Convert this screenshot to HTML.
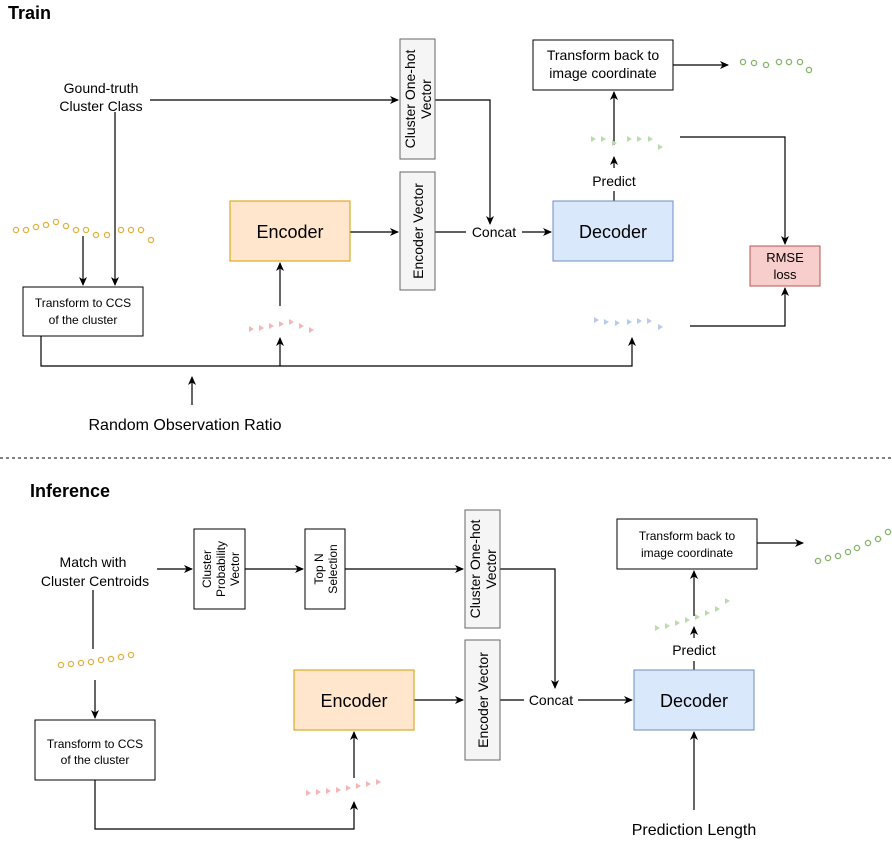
<!DOCTYPE html>
<html><head><meta charset="utf-8"><style>
html,body{margin:0;padding:0;background:#fff}
svg{display:block}
text{font-family:"Liberation Sans",Arial,sans-serif;fill:#000}
</style></head><body>
<svg width="892" height="848" viewBox="0 0 892 848" xmlns="http://www.w3.org/2000/svg">
<defs>
<marker id="a" markerWidth="10" markerHeight="10" refX="8" refY="5" orient="auto" markerUnits="userSpaceOnUse">
<path d="M0,1 L9,5 L0,9 L2.5,5 Z" fill="#000"/></marker>
</defs>
<g stroke="#000" stroke-width="1.2" fill="none">
<path d="M150,100 H398" marker-end="url(#a)"/>
<path d="M435,100 H490 V224" marker-end="url(#a)"/>
<path d="M350,232 H398" marker-end="url(#a)"/>
<path d="M435,232 H466"/>
<path d="M522,232 H551" marker-end="url(#a)"/>
<path d="M614,201 V191"/>
<path d="M614,168 V157" marker-end="url(#a)"/>
<path d="M614,145 V92" marker-end="url(#a)"/>
<path d="M673,65 H728" marker-end="url(#a)"/>
<path d="M680,137 H785 V244" marker-end="url(#a)"/>
<path d="M690,326 H785 V288" marker-end="url(#a)"/>
<path d="M115,112 V285" marker-end="url(#a)"/>
<path d="M83,236 V285" marker-end="url(#a)"/>
<path d="M41,336 V366 H632 V338" marker-end="url(#a)"/>
<path d="M280,366 V338" marker-end="url(#a)"/>
<path d="M280,306 V263" marker-end="url(#a)"/>
<path d="M192,405 V377" marker-end="url(#a)"/>
<path d="M157,569 H192" marker-end="url(#a)"/>
<path d="M245,569 H303" marker-end="url(#a)"/>
<path d="M345,569 H463" marker-end="url(#a)"/>
<path d="M500,569 H555 V688" marker-end="url(#a)"/>
<path d="M414,700 H463" marker-end="url(#a)"/>
<path d="M500,700 H524"/>
<path d="M578,700 H632" marker-end="url(#a)"/>
<path d="M694,670 V661"/>
<path d="M694,638 V627" marker-end="url(#a)"/>
<path d="M694,616 V571" marker-end="url(#a)"/>
<path d="M757,543 H803" marker-end="url(#a)"/>
<path d="M93,590 V649"/>
<path d="M95,680 V718" marker-end="url(#a)"/>
<path d="M95,780 V829 H354 V802" marker-end="url(#a)"/>
<path d="M354,778 V732" marker-end="url(#a)"/>
<path d="M694,810 V732" marker-end="url(#a)"/>
</g>
<line x1="0" y1="458" x2="892" y2="458" stroke="#000" stroke-width="1" stroke-dasharray="3,3"/>

<rect x="400" y="39" width="35" height="120" fill="#f5f5f5" stroke="#666"/>
<text transform="translate(417,99) rotate(-90)" font-size="14" text-anchor="middle" fill="#333"><tspan x="0" y="-2">Cluster One-hot</tspan><tspan x="0" y="14">Vector</tspan></text>
<rect x="400" y="172" width="35" height="118" fill="#f5f5f5" stroke="#666"/>
<text transform="translate(423,231) rotate(-90)" font-size="14" text-anchor="middle" fill="#333">Encoder Vector</text>
<rect x="230" y="201" width="120" height="60" fill="#ffe6cc" stroke="#d79b00"/>
<text x="290" y="238" font-size="18" text-anchor="middle">Encoder</text>
<rect x="553" y="201" width="120" height="60" fill="#dae8fc" stroke="#6c8ebf"/>
<text x="613" y="238" font-size="18" text-anchor="middle">Decoder</text>
<rect x="533" y="40" width="140" height="50" fill="#fff" stroke="#000"/>
<text x="603" y="60" font-size="14" text-anchor="middle">Transform back to</text>
<text x="603" y="78" font-size="14" text-anchor="middle">image coordinate</text>
<rect x="750" y="246" width="70" height="40" fill="#f8cecc" stroke="#b85450"/>
<text x="785" y="262" font-size="13" text-anchor="middle">RMSE</text>
<text x="785" y="279" font-size="13" text-anchor="middle">loss</text>
<rect x="23" y="287" width="120" height="49" fill="#fff" stroke="#000"/>
<text x="83" y="307" font-size="12" text-anchor="middle">Transform to CCS</text>
<text x="83" y="324" font-size="12" text-anchor="middle">of the cluster</text>
<text x="8" y="19" font-size="18" font-weight="bold">Train</text>
<text x="101" y="93" font-size="14" text-anchor="middle">Gound-truth</text>
<text x="101" y="111" font-size="14" text-anchor="middle">Cluster Class</text>
<text x="494" y="237" font-size="14" text-anchor="middle">Concat</text>
<text x="614" y="186" font-size="14" text-anchor="middle">Predict</text>
<text x="185" y="430" font-size="16" text-anchor="middle">Random Observation Ratio</text>

<g fill="none" stroke="#e0b040" stroke-width="1.3">
<circle cx="16" cy="230" r="2.6"/><circle cx="26" cy="230" r="2.6"/><circle cx="36" cy="227" r="2.6"/><circle cx="46" cy="225" r="2.6"/><circle cx="56" cy="222" r="2.6"/><circle cx="66" cy="226" r="2.6"/><circle cx="76" cy="230" r="2.6"/><circle cx="86" cy="230" r="2.6"/><circle cx="96" cy="235" r="2.6"/><circle cx="107" cy="235" r="2.6"/><circle cx="121" cy="230" r="2.6"/><circle cx="131" cy="230" r="2.6"/><circle cx="141" cy="230" r="2.6"/><circle cx="151" cy="240" r="2.6"/>
</g>
<g fill="none" stroke="#82b366" stroke-width="1.3">
<circle cx="743" cy="62" r="2.6"/><circle cx="754" cy="63" r="2.6"/><circle cx="766" cy="65" r="2.6"/><circle cx="779" cy="62" r="2.6"/><circle cx="789" cy="62" r="2.6"/><circle cx="800" cy="62" r="2.6"/><circle cx="809" cy="70" r="2.6"/>
</g>
<g fill="#b9dcae">
<path d="M591,136 l5,3 l-5,3z"/><path d="M601,136 l5,3 l-5,3z"/><path d="M612,140 l5,3 l-5,3z"/><path d="M627,136 l5,3 l-5,3z"/><path d="M637,136 l5,3 l-5,3z"/><path d="M648,136 l5,3 l-5,3z"/><path d="M658,144 l5,3 l-5,3z"/>
</g>
<g fill="#f4b6b4">
<path d="M249,326 l5,3 l-5,3z"/><path d="M259,325 l5,3 l-5,3z"/><path d="M269,323 l5,3 l-5,3z"/><path d="M279,321 l5,3 l-5,3z"/><path d="M289,319 l5,3 l-5,3z"/><path d="M299,323 l5,3 l-5,3z"/><path d="M309,327 l5,3 l-5,3z"/>
</g>
<g fill="#b8c9ef">
<path d="M594,317 l5,3 l-5,3z"/><path d="M604,319 l5,3 l-5,3z"/><path d="M615,320 l5,3 l-5,3z"/><path d="M627,319 l5,3 l-5,3z"/><path d="M637,318 l5,3 l-5,3z"/><path d="M647,318 l5,3 l-5,3z"/><path d="M658,324 l5,3 l-5,3z"/>
</g>

<text x="30" y="497" font-size="18" font-weight="bold">Inference</text>
<text x="93" y="567" font-size="14" text-anchor="middle">Match with</text>
<text x="95" y="586" font-size="14" text-anchor="middle">Cluster Centroids</text>
<rect x="194" y="529" width="51" height="80" fill="#fff" stroke="#000"/>
<text transform="translate(220,569) rotate(-90)" font-size="12" text-anchor="middle"><tspan x="0" y="-9">Cluster</tspan><tspan x="0" y="5">Probability</tspan><tspan x="0" y="19">Vector</tspan></text>
<rect x="305" y="529" width="40" height="80" fill="#fff" stroke="#000"/>
<text transform="translate(325,569) rotate(-90)" font-size="12" text-anchor="middle"><tspan x="0" y="-2">Top N</tspan><tspan x="0" y="12">Selection</tspan></text>
<rect x="465" y="510" width="35" height="118" fill="#f5f5f5" stroke="#666"/>
<text transform="translate(482,569) rotate(-90)" font-size="14" text-anchor="middle" fill="#333"><tspan x="0" y="-2">Cluster One-hot</tspan><tspan x="0" y="14">Vector</tspan></text>
<rect x="465" y="640" width="35" height="120" fill="#f5f5f5" stroke="#666"/>
<text transform="translate(488,700) rotate(-90)" font-size="14" text-anchor="middle" fill="#333">Encoder Vector</text>
<rect x="294" y="670" width="120" height="60" fill="#ffe6cc" stroke="#d79b00"/>
<text x="354" y="707" font-size="18" text-anchor="middle">Encoder</text>
<rect x="634" y="670" width="120" height="60" fill="#dae8fc" stroke="#6c8ebf"/>
<text x="694" y="707" font-size="18" text-anchor="middle">Decoder</text>
<rect x="617" y="519" width="140" height="50" fill="#fff" stroke="#000"/>
<text x="687" y="540" font-size="12" text-anchor="middle">Transform back to</text>
<text x="687" y="557" font-size="12" text-anchor="middle">image coordinate</text>
<rect x="35" y="720" width="120" height="60" fill="#fff" stroke="#000"/>
<text x="95" y="748" font-size="12" text-anchor="middle">Transform to CCS</text>
<text x="95" y="764" font-size="12" text-anchor="middle">of the cluster</text>
<text x="551" y="705" font-size="14" text-anchor="middle">Concat</text>
<text x="694" y="655" font-size="14" text-anchor="middle">Predict</text>
<text x="694" y="835" font-size="16" text-anchor="middle">Prediction Length</text>

<g fill="none" stroke="#e0b040" stroke-width="1.3">
<circle cx="61" cy="665" r="2.6"/><circle cx="71" cy="664" r="2.6"/><circle cx="81" cy="663" r="2.6"/><circle cx="91" cy="662" r="2.6"/><circle cx="101" cy="660" r="2.6"/><circle cx="111" cy="659" r="2.6"/><circle cx="121" cy="657" r="2.6"/><circle cx="131" cy="655" r="2.6"/>
</g>
<g fill="none" stroke="#82b366" stroke-width="1.3">
<circle cx="818" cy="561" r="2.6"/><circle cx="828" cy="558" r="2.6"/><circle cx="838" cy="556" r="2.6"/><circle cx="848" cy="552" r="2.6"/><circle cx="857" cy="548" r="2.6"/><circle cx="868" cy="543" r="2.6"/><circle cx="878" cy="539" r="2.6"/><circle cx="888" cy="532" r="2.6"/>
</g>
<g fill="#b9dcae">
<path d="M655,625 l5,3 l-5,3z"/><path d="M665,623 l5,3 l-5,3z"/><path d="M675,620 l5,3 l-5,3z"/><path d="M685,617 l5,3 l-5,3z"/><path d="M695,614 l5,3 l-5,3z"/><path d="M705,610 l5,3 l-5,3z"/><path d="M715,606 l5,3 l-5,3z"/><path d="M725,598 l5,3 l-5,3z"/>
</g>
<g fill="#f4b6b4">
<path d="M306,790 l5,3 l-5,3z"/><path d="M316,789 l5,3 l-5,3z"/><path d="M326,788 l5,3 l-5,3z"/><path d="M336,787 l5,3 l-5,3z"/><path d="M346,785 l5,3 l-5,3z"/><path d="M356,783 l5,3 l-5,3z"/><path d="M366,781 l5,3 l-5,3z"/><path d="M376,779 l5,3 l-5,3z"/>
</g>
</svg>
</body></html>
